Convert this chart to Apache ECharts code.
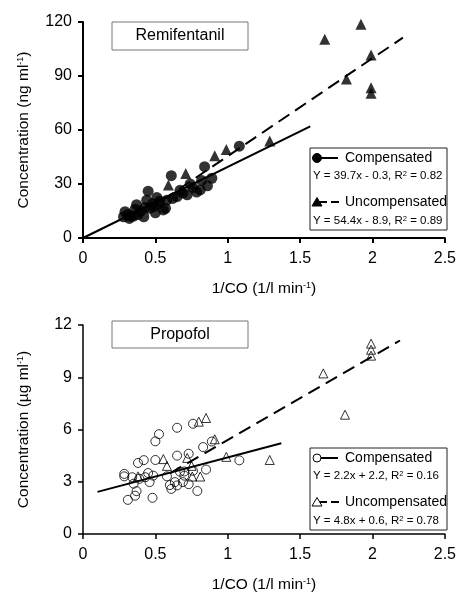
<!DOCTYPE html>
<html><head><meta charset="utf-8">
<script src="https://cdn.jsdelivr.net/npm/echarts@6/dist/echarts.min.js"></script>
<style>html,body{margin:0;padding:0;background:#fff}#c{width:459px;height:594px}</style>
</head><body><div id="c"></div>
<script>
// ---- data ----
const xTicks = ['0', '0.5', '1', '1.5', '2', '2.5'];
const remiYTicks = [0, 30, 60, 90, 120];
const propoYTicks = [0, 3, 6, 9, 12];

const remiCompensated = [[0.28,11.8],[0.29,14.6],[0.31,13.0],[0.32,10.9],[0.33,12.0],[0.35,12.2],[0.36,16.0],[0.37,18.5],[0.38,13.0],[0.40,15.0],[0.42,11.8],[0.43,17.0],[0.44,21.0],[0.45,26.0],[0.46,16.5],[0.48,19.0],[0.49,17.4],[0.50,14.0],[0.51,22.5],[0.52,19.0],[0.53,20.5],[0.555,15.6],[0.57,16.5],[0.58,21.0],[0.61,34.6],[0.62,22.0],[0.65,23.0],[0.67,26.5],[0.69,25.0],[0.72,24.0],[0.74,30.0],[0.76,28.0],[0.785,25.5],[0.81,26.7],[0.82,32.0],[0.84,39.6],[0.86,29.0],[0.89,33.2],[1.08,51.0]];
const remiUncompensated = [[0.59,29.5],[0.71,35.8],[0.91,45.7],[0.99,49.1],[1.29,53.9],[1.67,110.4],[1.82,88.3],[1.92,118.7],[1.99,101.7],[1.99,83.5],[1.99,80.4]];
const remiCompFit = [[0.0,0.0],[1.57,62.0]];
const remiUncompFit = [[0.55,21.0],[2.21,111.3]];

const propoCompensated = [[0.285,3.45],[0.285,3.31],[0.31,1.96],[0.34,3.26],[0.35,2.89],[0.36,2.2],[0.37,2.46],[0.38,4.08],[0.39,3.17],[0.42,4.24],[0.43,3.26],[0.45,3.5],[0.46,2.98],[0.48,2.08],[0.485,3.35],[0.50,4.25],[0.50,5.32],[0.525,5.73],[0.58,3.31],[0.60,2.81],[0.61,2.59],[0.635,2.98],[0.65,6.1],[0.65,4.5],[0.65,2.79],[0.67,3.58],[0.69,2.98],[0.70,3.35],[0.70,3.59],[0.73,4.61],[0.73,2.86],[0.76,6.33],[0.76,3.63],[0.79,2.47],[0.83,4.99],[0.85,3.7],[0.89,5.31],[1.08,4.23]];
const propoUncompensated = [[0.38,3.31],[0.555,4.3],[0.58,3.91],[0.72,4.37],[0.75,3.91],[0.755,3.3],[0.81,3.3],[0.80,6.45],[0.85,6.66],[0.91,5.44],[0.99,4.43],[1.29,4.25],[1.66,9.22],[1.81,6.85],[1.99,10.93],[1.99,10.58],[1.99,10.24]];
const propoCompFit = [[0.1,2.42],[1.37,5.21]];
const propoUncompFit = [[0.6,3.48],[2.19,11.11]];

const legendText = {
  remi: ['Y = 39.7x - 0.3, R{s|2} = 0.82', 'Y = 54.4x - 8.9, R{s|2} = 0.89'],
  propo: ['Y = 2.2x + 2.2, R{s|2} = 0.16', 'Y = 4.8x + 0.6, R{s|2} = 0.78']
};

// ---- chart ----
const FONT = '"Liberation Sans", Arial, sans-serif';
const chart = echarts.init(document.getElementById('c'), null, {renderer: 'canvas'});
const sup = {fontSize: 9, verticalAlign: 'top', fontFamily: FONT, color: '#000', padding: [0,0,0,0]};

function xAxisCfg(idx, lw) {
  return {
    type: 'value', gridIndex: idx, min: 0, max: 2.5, interval: 0.5,
    name: '1/CO (1/l min{s|-1})', nameLocation: 'middle', nameGap: 43,
    nameTextStyle: {fontFamily: FONT, fontSize: 15.5, color: '#000', rich: {s: sup}},
    axisLine: {show: true, onZero: false, lineStyle: {color: '#000', width: lw}},
    axisTick: {show: true, inside: false, length: 5, lineStyle: {color: '#000', width: lw}},
    axisLabel: {fontFamily: FONT, fontSize: 16, color: '#000', margin: 13,
      formatter: v => xTicks[Math.round(v / 0.5)]},
    splitLine: {show: false}
  };
}
function yAxisCfg(idx, max, interval, unit, ticks, lw) {
  return {
    type: 'value', gridIndex: idx, min: 0, max: max, interval: interval,
    name: 'Concentration (' + unit + ' ml{s|-1})', nameLocation: 'middle', nameGap: 51,
    nameTextStyle: {fontFamily: FONT, fontSize: 15.5, color: '#000', rich: {s: sup}},
    axisLine: {show: true, onZero: false, lineStyle: {color: '#000', width: lw}},
    axisTick: {show: true, inside: false, length: 5, lineStyle: {color: '#000', width: lw}},
    axisLabel: {fontFamily: FONT, fontSize: 16, color: '#000', margin: 11,
      formatter: v => String(ticks[Math.round(v / interval)])},
    splitLine: {show: false}
  };
}

function legendBox(x, y, open, texts) {
  const els = [];
  els.push({type: 'rect', shape: {x: x, y: y, width: 137, height: 82},
    style: {fill: '#fff', stroke: '#222', lineWidth: 1}});
  // row 1
  els.push({type: 'line', shape: {x1: x + 7, y1: y + 10, x2: x + 28, y2: y + 10}, style: {stroke: '#000', lineWidth: 2}});
  els.push({type: 'circle', shape: {cx: x + 7, cy: y + 10, r: open ? 4 : 4.5},
    style: {fill: open ? '#fff' : '#000', stroke: '#000', lineWidth: 1}});
  els.push({type: 'text', x: x + 35, y: y + 10, style: {text: 'Compensated', fontFamily: FONT, fontSize: 14,
    fill: '#000', verticalAlign: 'middle'}});
  els.push({type: 'text', x: x + 3, y: y + 28, style: {text: texts[0], fontFamily: FONT, fontSize: 11.5,
    fill: '#000', verticalAlign: 'middle', rich: {s: {fontSize: 7.5, verticalAlign: 'top', fontFamily: FONT, fill: '#000'}}}});
  // row 2
  els.push({type: 'line', shape: {x1: x + 9, y1: y + 54, x2: x + 31, y2: y + 54},
    style: {stroke: '#000', lineWidth: 2, lineDash: [8, 4]}});
  els.push({type: 'polygon', shape: {points: [[x + 7, y + 49.5], [x + 12, y + 58], [x + 2, y + 58]]},
    style: {fill: open ? '#fff' : '#000', stroke: '#000', lineWidth: 1}});
  els.push({type: 'text', x: x + 35, y: y + 54, style: {text: 'Uncompensated', fontFamily: FONT, fontSize: 14,
    fill: '#000', verticalAlign: 'middle'}});
  els.push({type: 'text', x: x + 3, y: y + 73, style: {text: texts[1], fontFamily: FONT, fontSize: 11.5,
    fill: '#000', verticalAlign: 'middle', rich: {s: {fontSize: 7.5, verticalAlign: 'top', fontFamily: FONT, fill: '#000'}}}});
  return els;
}
function titleBox(x, y, w, h, label) {
  return [
    {type: 'rect', shape: {x: x, y: y, width: w, height: h}, style: {fill: '#fff', stroke: '#777', lineWidth: 1}},
    {type: 'text', x: x + w / 2, y: y + h / 2, style: {text: label, fontFamily: FONT, fontSize: 16, fill: '#000',
      align: 'center', verticalAlign: 'middle'}}
  ];
}

const filled = {color: '#000'};
const openStyle = {color: 'rgba(0,0,0,0)', borderColor: '#000', borderWidth: 1};

chart.setOption({
  animation: false,
  backgroundColor: '#fff',
  grid: [
    {left: 83, top: 22, width: 363, height: 216},
    {left: 83, top: 325, width: 363, height: 215}
  ],
  xAxis: [xAxisCfg(0, 2), xAxisCfg(1, 1.5)],
  yAxis: [yAxisCfg(0, 120, 30, 'ng', remiYTicks, 2), yAxisCfg(1, 12, 3, 'µg', propoYTicks, 1.5)],
  series: [
    {type: 'line', xAxisIndex: 0, yAxisIndex: 0, data: remiCompFit, showSymbol: false, silent: true,
      lineStyle: {color: '#000', width: 2}, z: 1},
    {type: 'line', xAxisIndex: 0, yAxisIndex: 0, data: remiUncompFit, showSymbol: false, silent: true,
      lineStyle: {color: '#000', width: 2, type: [13, 7]}, z: 1},
    {type: 'scatter', xAxisIndex: 0, yAxisIndex: 0, data: remiCompensated, symbol: 'circle', symbolSize: 11,
      itemStyle: filled, z: 3},
    {type: 'scatter', xAxisIndex: 0, yAxisIndex: 0, data: remiUncompensated, symbol: 'triangle', symbolSize: 11,
      itemStyle: filled, z: 3},
    {type: 'line', xAxisIndex: 1, yAxisIndex: 1, data: propoCompFit, showSymbol: false, silent: true,
      lineStyle: {color: '#000', width: 2}, z: 1},
    {type: 'line', xAxisIndex: 1, yAxisIndex: 1, data: propoUncompFit, showSymbol: false, silent: true,
      lineStyle: {color: '#000', width: 2, type: [13, 7]}, z: 1},
    {type: 'scatter', xAxisIndex: 1, yAxisIndex: 1, data: propoCompensated, symbol: 'circle', symbolSize: 9,
      itemStyle: openStyle, z: 3},
    {type: 'scatter', xAxisIndex: 1, yAxisIndex: 1, data: propoUncompensated, symbol: 'triangle', symbolSize: 9,
      itemStyle: openStyle, z: 3}
  ],
  graphic: [].concat(
    titleBox(112, 22, 136, 28, 'Remifentanil'),
    titleBox(112, 321, 136, 27, 'Propofol'),
    legendBox(310, 148, false, legendText.remi),
    legendBox(310, 448, true, legendText.propo)
  )
});
</script>
</body></html>
